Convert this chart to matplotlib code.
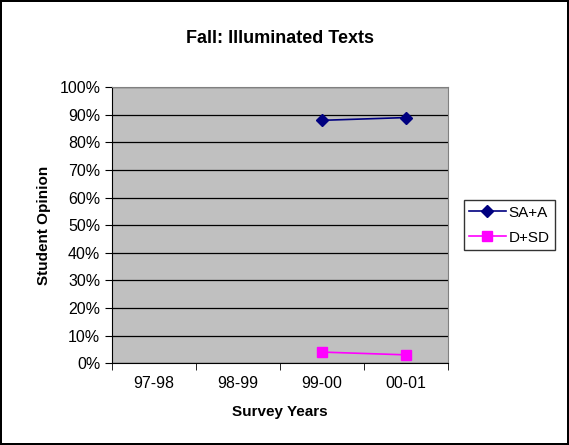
import matplotlib.pyplot as plt
import numpy as np
from matplotlib.ticker import FixedLocator, PercentFormatter

plt.rcParams['font.family'] = ['Liberation Sans', 'DejaVu Sans']

years = ['97-98', '98-99', '99-00', '00-01']
sa_a = [None, None, 88, 89]
d_sd = [None, None, 4, 3]

fig = plt.figure(figsize=(5.69, 4.45), dpi=100)
fig.patch.set_edgecolor('black')
fig.patch.set_linewidth(1.5)
ax = fig.add_axes([0.197, 0.184, 0.59, 0.62])
ax.set_facecolor('#C0C0C0')

x = np.arange(len(years))
sa = np.array([np.nan if v is None else v for v in sa_a], dtype=float)
dd = np.array([np.nan if v is None else v for v in d_sd], dtype=float)
ax.plot(x, sa, color='#000080', marker='D', markersize=6, linewidth=1.2, label='SA+A')
ax.plot(x, dd, color='#FF00FF', marker='s', markersize=7, linewidth=1.2, label='D+SD')

ax.set_xlim(-0.5, len(years) - 0.5)
ax.set_ylim(0, 100)
ax.set_yticks(np.arange(0, 101, 10))
ax.yaxis.set_major_formatter(PercentFormatter(decimals=0))
ax.grid(axis='y', color='black', linewidth=0.9)
ax.set_axisbelow(True)

ax.set_xticks(x)
ax.set_xticklabels(years)
ax.xaxis.set_minor_locator(FixedLocator(np.arange(-0.5, len(years), 1)))
ax.tick_params(axis='x', which='major', length=0, pad=9)
ax.tick_params(axis='x', which='minor', length=5, direction='out')
ax.tick_params(axis='y', length=5, direction='out')
ax.tick_params(labelsize=11.5)

for side in ['top', 'right']:
    ax.spines[side].set_color('#808080')
ax.spines['left'].set_color('black')
ax.spines['bottom'].set_color('black')

ax.set_title('Fall: Illuminated Texts', fontweight='bold', fontsize=13, pad=32)
ax.set_xlabel('Survey Years', fontweight='bold', fontsize=11, labelpad=10)
ax.set_ylabel('Student Opinion', fontweight='bold', fontsize=11, labelpad=6)

leg = fig.legend(loc='center', bbox_to_anchor=(0.895, 0.494), fancybox=False,
                 edgecolor='black', fontsize=11, handlelength=2.4, borderpad=0.35,
                 labelspacing=0.7, handletextpad=0.2, borderaxespad=0.2)
leg.get_frame().set_linewidth(1.0)

fig.savefig('out.png', dpi=100)
